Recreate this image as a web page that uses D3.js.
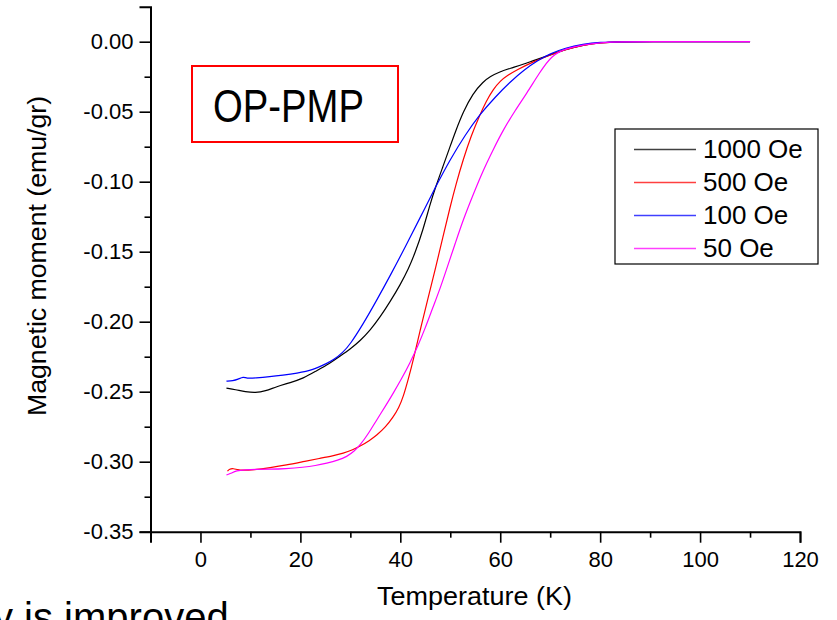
<!DOCTYPE html>
<html lang="en">
<head>
    <meta charset="UTF-8">
    <title>OP-PMP magnetic moment vs temperature</title>
    <style>
        body { margin: 0; background: #fff; }
        svg { display: block; }
        text { font-family: "Liberation Sans", Arial, sans-serif; fill: #000; }
        .axis path, .axis line { stroke: #000; }
        .axis path { stroke-width: 2px; }
        .axis line { stroke-width: 1.6px; }
        .curve { fill: none; stroke-width: 1.2px; }
    </style>
</head>
<body>
    <svg width="837" height="620"></svg>
    <script src="https://d3js.org/d3.v7.min.js"></script>
    <script>
        // series: [temperature (K), moment (emu/gr)]
        const black1000 = [[5.2,-0.2475],[7,-0.2485],[9,-0.2500],[11,-0.2508],[13,-0.2495],[15.2,-0.2464],[18,-0.2435],[20.6,-0.2404],[23,-0.2355],[25.9,-0.2297],[28,-0.2245],[30,-0.2195],[32,-0.2135],[34,-0.2060],[36,-0.1965],[38,-0.1855],[40,-0.1735],[41.6,-0.1625],[43,-0.1505],[44.5,-0.1350],[46,-0.1155],[47.1,-0.1034],[48.5,-0.0895],[49.9,-0.0755],[51,-0.0645],[52.6,-0.0500],[54.5,-0.0370],[56.6,-0.0285],[58,-0.0248],[59.9,-0.0215],[62,-0.0190],[64.6,-0.0162],[67,-0.0130],[70,-0.0095],[73,-0.0055],[76.6,-0.0024],[80,-0.0008],[83.3,0],[90,0],[100,0],[110,0]];
        const red500 = [[5.4,-0.3068],[5.8,-0.3052],[6.6,-0.3048],[7.4,-0.3058],[8.5,-0.3062],[10.6,-0.3058],[14,-0.3042],[17.2,-0.3024],[20.5,-0.3000],[23.9,-0.2976],[26.5,-0.2958],[28.6,-0.2940],[30.5,-0.2915],[32,-0.2888],[33.8,-0.2850],[35.3,-0.2810],[37,-0.2755],[38.6,-0.2680],[39.7,-0.2615],[40.6,-0.2536],[41.6,-0.2410],[42.6,-0.2274],[44,-0.2055],[45.5,-0.1840],[47.1,-0.1610],[48.5,-0.1400],[49.9,-0.1190],[51.2,-0.1010],[52.6,-0.0840],[54.2,-0.0670],[55.9,-0.0525],[57.2,-0.0425],[58.6,-0.0340],[60,-0.0280],[61.5,-0.0240],[63.3,-0.0202],[66.5,-0.0145],[70,-0.0095],[73,-0.0055],[76.6,-0.0024],[80,-0.0006],[84,0],[90,0],[100,0],[110,0]];
        const blue100 = [[5.2,-0.2425],[6.5,-0.2422],[7.5,-0.2412],[8.6,-0.2393],[9.2,-0.2405],[11,-0.2402],[13.9,-0.2393],[16.5,-0.2382],[19.2,-0.2369],[22.6,-0.2345],[25.3,-0.2297],[26.6,-0.2274],[28.5,-0.2220],[30,-0.2160],[32.5,-0.2020],[35,-0.1865],[38.3,-0.1650],[41,-0.1465],[44,-0.1255],[47.1,-0.1034],[50,-0.0840],[53,-0.0665],[55.9,-0.0520],[59,-0.0395],[61.9,-0.0290],[65,-0.0195],[67.5,-0.0135],[70,-0.0085],[73,-0.0045],[76.6,-0.0017],[80,-0.0004],[84,0],[90,0],[100,0],[110,0]];
        const magenta50 = [[5.2,-0.3095],[6,-0.3085],[7.2,-0.3063],[9,-0.3058],[11,-0.3055],[13.9,-0.3054],[17,-0.3050],[20.6,-0.3040],[23,-0.3028],[25.3,-0.3010],[27.5,-0.2990],[29.3,-0.2964],[30.8,-0.2925],[32,-0.2880],[33.7,-0.2795],[35.3,-0.2700],[37,-0.2605],[38.6,-0.2510],[40.3,-0.2405],[41.9,-0.2297],[43.5,-0.2175],[45,-0.2045],[46.5,-0.1900],[48,-0.1760],[49.3,-0.1620],[51,-0.1440],[52.6,-0.1270],[54.6,-0.1090],[56.6,-0.0917],[58.6,-0.0770],[60.6,-0.0630],[63,-0.0490],[65.3,-0.0369],[67.8,-0.0225],[70.3,-0.0095],[73.3,-0.0048],[76.5,-0.0022],[80,-0.0007],[84,0],[90,0],[100,0],[110,0]];

        const seriesNames = ["1000 Oe", "500 Oe", "100 Oe", "50 Oe"];
        const seriesColors = ["#000000", "#ff0000", "#0000ff", "#ff00ff"];
        const seriesData = [black1000, red500, blue100, magenta50];

        const xTicks = [0, 20, 40, 60, 80, 100, 120];
        const xMinor = [-10, 10, 30, 50, 70, 90, 110];
        const yTicks = [0, -0.05, -0.10, -0.15, -0.20, -0.25, -0.30, -0.35];
        const yMinor = [-0.025, -0.075, -0.125, -0.175, -0.225, -0.275, -0.325];

        const svg = d3.select("svg");

        const x = d3.scaleLinear().domain([-10, 120]).range([150.5, 800]);
        const y = d3.scaleLinear().domain([-0.35, 0.025]).range([531.7, 6.7]);

        // plain hyphen for negatives, as in the original plot
        const yFmt = d => d3.format(".2f")(d).replace("\u2212", "-");

        // background slide text peeking in at the bottom
        svg.append("text")
            .attr("x", -7)
            .attr("y", 631)
            .style("font-size", "40px")
            .text("y is improved");

        // minor ticks first
        svg.append("g")
            .attr("class", "axis")
            .attr("transform", `translate(0,${y(-0.35)})`)
            .call(d3.axisBottom(x).tickValues(xMinor).tickSize(6).tickFormat(""))
            .call(g => g.select(".domain").remove());

        svg.append("g")
            .attr("class", "axis")
            .attr("transform", `translate(${x(-10)},0)`)
            .call(d3.axisLeft(y).tickValues(yMinor).tickSize(6).tickFormat(""))
            .call(g => g.select(".domain").remove());

        const xAxis = svg.append("g")
            .attr("class", "axis")
            .attr("transform", `translate(0,${y(-0.35)})`)
            .call(d3.axisBottom(x).tickValues(xTicks).tickSizeOuter(0).tickSize(11).tickPadding(9).tickFormat(d3.format("d")));
        xAxis.selectAll("text").style("font-size", "22px").attr("font-family", null);

        const yAxis = svg.append("g")
            .attr("class", "axis")
            .attr("transform", `translate(${x(-10)},0)`)
            .call(d3.axisLeft(y).tickValues(yTicks).tickSizeOuter(0).tickSize(11).tickPadding(6).tickFormat(yFmt));
        yAxis.selectAll("text").style("font-size", "22px").attr("font-family", null);

        // axis titles
        svg.append("text")
            .attr("x", 474.5)
            .attr("y", 605)
            .attr("text-anchor", "middle")
            .attr("textLength", 195)
            .attr("lengthAdjust", "spacingAndGlyphs")
            .style("font-size", "25px")
            .text("Temperature (K)");

        svg.append("text")
            .attr("transform", "translate(46,256) rotate(-90)")
            .attr("text-anchor", "middle")
            .attr("textLength", 320)
            .attr("lengthAdjust", "spacingAndGlyphs")
            .style("font-size", "26px")
            .text("Magnetic moment (emu/gr)");

        // curves
        const line = d3.line()
            .x(d => x(d[0]))
            .y(d => y(d[1]))
            .curve(d3.curveBasis);

        svg.append("g")
            .selectAll("path")
            .data(seriesData)
            .join("path")
            .attr("class", "curve")
            .attr("stroke", (d, i) => seriesColors[i])
            .attr("d", line);

        // sample label box
        svg.append("rect")
            .attr("x", 192).attr("y", 66)
            .attr("width", 206).attr("height", 76)
            .attr("fill", "none")
            .attr("stroke", "#ff0000")
            .attr("stroke-width", 2);
        svg.append("text")
            .attr("x", 213).attr("y", 122)
            .attr("textLength", 151)
            .attr("lengthAdjust", "spacingAndGlyphs")
            .style("font-size", "46px")
            .text("OP-PMP");

        // legend
        const legend = svg.append("g");
        legend.append("rect")
            .attr("x", 615).attr("y", 129)
            .attr("width", 203).attr("height", 135)
            .attr("fill", "#fff")
            .attr("stroke", "#000")
            .attr("stroke-width", 1.2);

        const rows = legend.selectAll("g.row")
            .data(seriesNames)
            .join("g")
            .attr("class", "row")
            .attr("transform", (d, i) => `translate(0,${149.5 + i * 33})`);
        rows.append("line")
            .attr("x1", 634).attr("x2", 696)
            .attr("stroke", (d, i) => seriesColors[i])
            .attr("stroke-opacity", 0.75)
            .attr("stroke-width", 1.3);
        rows.append("text")
            .attr("x", 703)
            .attr("y", 8)
            .style("font-size", "26px")
            .text(d => d);
    </script>
</body>
</html>
